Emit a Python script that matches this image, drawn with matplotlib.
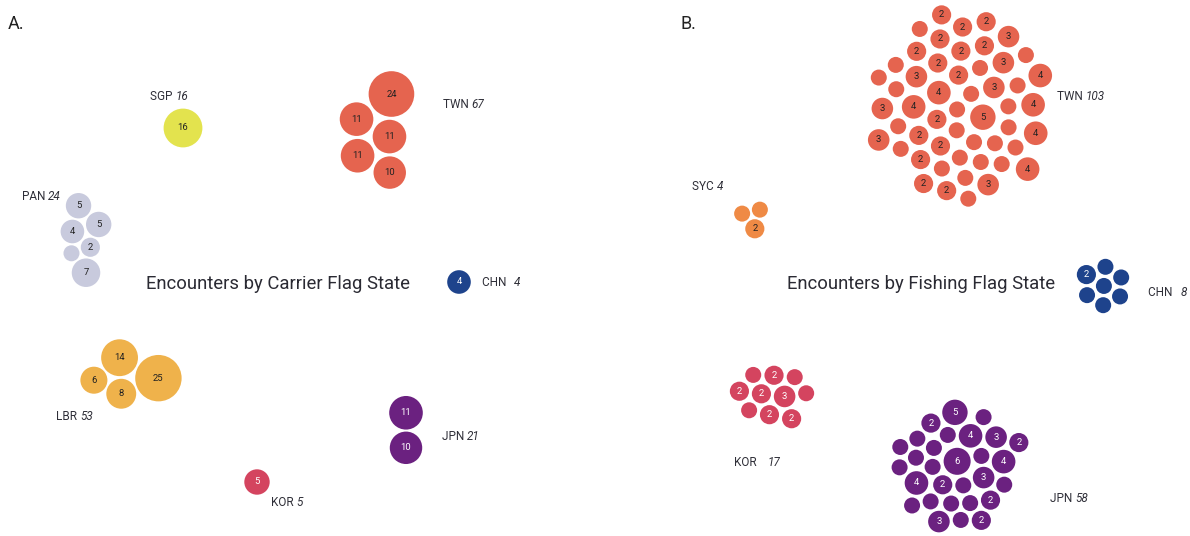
import numpy as np
import matplotlib
matplotlib.use('Agg')
import matplotlib.pyplot as plt
from matplotlib.patches import Circle

# Данные: число встреч для каждого судна (кружка), по флагу
carrier_states = ['SGP', 'TWN', 'PAN', 'CHN', 'LBR', 'JPN', 'KOR']
carrier_sgp = [16]
carrier_twn = [11, 11, 24, 10, 11]
carrier_pan = [2, 1, 5, 7, 4, 5]
carrier_chn = [4]
carrier_lbr = [25, 6, 14, 8]
carrier_jpn = [11, 10]
carrier_kor = [5]

fishing_states = ['TWN', 'SYC', 'CHN', 'KOR', 'JPN']
fishing_twn = [1, 1, 2, 5, 4, 3, 1, 2,
               1, 2, 1, 1, 3, 1, 2, 2, 1, 4, 3, 1, 2, 1, 2, 2, 3, 1, 1, 1, 2, 1,
               1, 3, 1, 1, 4, 2, 2, 1, 3, 1, 2, 1, 4, 1, 2, 1, 1, 4, 2, 2, 4, 3]
fishing_syc = [2, 1, 1]
fishing_chn = [1, 1, 1, 1, 2, 1, 1]
fishing_kor = [3, 2, 2, 2, 2, 1, 2, 1, 1, 1]
fishing_jpn = [6, 2, 1, 1, 1, 1, 1, 1, 3, 4, 4, 1, 1, 4, 1,
               5, 2, 1, 3, 1, 1, 1, 1, 1, 2, 1, 2, 3, 2]

carrier_values = [carrier_sgp, carrier_twn, carrier_pan, carrier_chn,
                  carrier_lbr, carrier_jpn, carrier_kor]
fishing_values = [fishing_twn, fishing_syc, fishing_chn, fishing_kor, fishing_jpn]

# Оформление: цвета и положение групп (в пикселях)
colors = {'SGP': '#e3e34e', 'TWN': '#e5644f', 'PAN': '#c8cadd', 'CHN': '#1e438c',
          'LBR': '#efb24b', 'JPN': '#6b2180', 'KOR': '#d4445f', 'SYC': '#ef8a45'}
dark_fill = {'CHN', 'JPN', 'KOR'}

# центр группы, подпись, поворот, притяжение по x/y, зазор, пробел в подписи
carrier_layout = {
    'SGP': dict(c=(183, 128), lab=(150, 96)),
    'TWN': dict(c=(377, 130), lab=(443, 104), rot=15, pad=3),
    'PAN': dict(c=(86, 240), lab=(22, 196), g=(0.05, 0.02)),
    'CHN': dict(c=(459, 282), lab=(482, 282), gap=5),
    'LBR': dict(c=(131, 374), lab=(56, 416), g=(0.02, 0.04)),
    'JPN': dict(c=(406, 430), lab=(442, 436), g=(0.05, 0.02)),
    'KOR': dict(c=(257, 482), lab=(271, 502)),
}
fishing_layout = {
    'TWN': dict(c=(960, 106), lab=(1057, 97), g=(0.035, 0.026), pad=5),
    'SYC': dict(c=(751, 220), lab=(692, 186), rot=55),
    'CHN': dict(c=(1103, 286), lab=(1148, 293), pad=3, gap=5),
    'KOR': dict(c=(772, 397), lab=(734, 463), g=(0.025, 0.04), pad=3, gap=8),
    'JPN': dict(c=(960, 466), lab=(1050, 498), pad=3),
}


def radius(n):
    return 4.2 + 3.8 * np.sqrt(n)


def collide(x, y, r, pad):
    dx = x[:, None] - x[None, :]
    dy = y[:, None] - y[None, :]
    d = np.hypot(dx, dy) + 1e-9
    ov = np.clip(r[:, None] + r[None, :] + pad - d, 0, None)
    np.fill_diagonal(ov, 0)
    x += (dx / d * ov * 0.5).sum(axis=1)
    y += (dy / d * ov * 0.5).sum(axis=1)


def pack(values, cx, cy, rot=0.0, g=(0.03, 0.03), pad=2.0, iters=400):
    r = radius(np.array(values, dtype=float))
    i = np.arange(len(values))
    ang = i * np.pi * (3 - np.sqrt(5))
    rad = 10 * np.sqrt(0.5 + i)
    x = rad * np.cos(ang)
    y = rad * np.sin(ang)
    for _ in range(iters):
        x -= x * g[0]
        y -= y * g[1]
        for _ in range(3):
            collide(x, y, r, pad)
    for _ in range(60):  # убираем остаточные наложения
        collide(x, y, r, pad)
    # поворот и центрирование по габаритам
    c, s = np.cos(np.radians(rot)), np.sin(np.radians(rot))
    x, y = x * c - y * s, x * s + y * c
    x -= ((x - r).min() + (x + r).max()) / 2
    y -= ((y - r).min() + (y + r).max()) / 2
    return cx + x, cy + y, r


fig = plt.figure(figsize=(11.9, 5.36), dpi=100)
ax = fig.add_axes([0, 0, 1, 1])
ax.set_xlim(0, 1190)
ax.set_ylim(536, 0)
ax.set_aspect('equal')
ax.axis('off')
renderer = fig.canvas.get_renderer()

font = ['Roboto', 'DejaVu Sans']
text_color = '#2f2f38'


def draw_group(state, values, layout):
    lay = layout[state]
    cx, cy = lay['c']
    lx, ly = lay['lab']
    xs, ys, rs = pack(values, cx, cy, lay.get('rot', 0), lay.get('g', (0.03, 0.03)),
                      lay.get('pad', 2.0))
    col = colors[state]
    tcol = 'white' if state in dark_fill else '#222222'
    for x, y, r, v in zip(xs, ys, rs, values):
        ax.add_patch(Circle((x, y), r, facecolor=col, edgecolor='none'))
        if v > 1:
            ax.text(x, y, str(v), ha='center', va='center', fontsize=6.8,
                    color=tcol, family=font)
    t = ax.text(lx, ly, state + ' ', ha='left', va='center', fontsize=8.5,
                color=text_color, family=font)
    bb = t.get_window_extent(renderer=renderer)
    x_end = ax.transData.inverted().transform((bb.x1, bb.y0))[0] + lay.get('gap', 0)
    ax.text(x_end, ly, str(sum(values)), ha='left', va='center', fontsize=8.5,
            color=text_color, family=font, style='italic')


for st, vals in zip(carrier_states, carrier_values):
    draw_group(st, vals, carrier_layout)
for st, vals in zip(fishing_states, fishing_values):
    draw_group(st, vals, fishing_layout)

ax.text(278, 284, 'Encounters by Carrier Flag State', ha='center', va='center',
        fontsize=13.3, color='#2a2a33', family=font)
ax.text(921, 284, 'Encounters by Fishing Flag State', ha='center', va='center',
        fontsize=13.3, color='#2a2a33', family=font)
ax.text(8, 24, 'A.', ha='left', va='center', fontsize=13, color='#222222', family=font)
ax.text(680, 24, 'B.', ha='left', va='center', fontsize=13, color='#222222', family=font)

fig.savefig('out.png', dpi=100, facecolor='white')
